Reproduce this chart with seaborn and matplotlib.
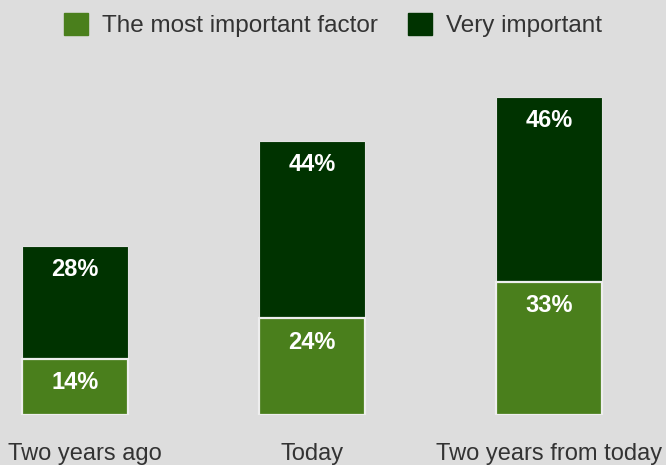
import pandas as pd
import matplotlib.pyplot as plt
import matplotlib.transforms as mtransforms
import seaborn as sns
from matplotlib.patches import Patch

# Donnees
periods = ["Two years ago", "Today", "Two years from today"]
most_important = [14, 24, 33]
very_important = [28, 44, 46]

BG = "#dddddd"
LIGHT = "#4a7f1c"
DARK = "#003300"
TEXT = "#333333"


def main():
    df = pd.DataFrame({"period": periods, "most": most_important, "very": very_important})
    df["total"] = df["most"] + df["very"]

    sns.set_theme(style="white")
    plt.rcParams["font.family"] = ["Liberation Sans", "DejaVu Sans"]

    fig = plt.figure(figsize=(6.66, 4.65), dpi=100, facecolor=BG)
    ax = fig.add_axes([0, 50 / 465, 1, 355 / 465])
    ax.set_facecolor(BG)

    # barre totale (tres important) puis la partie basse
    sns.barplot(data=df, x="period", y="total", color=DARK, saturation=1, width=0.45,
                edgecolor="#e2e2e2", linewidth=0.8, ax=ax)
    sns.barplot(data=df, x="period", y="most", color=LIGHT, saturation=1, width=0.45,
                edgecolor="#eeeeee", linewidth=1.6, ax=ax)

    for i, row in df.iterrows():
        ax.annotate(f"{row['very']}%", (i, row["total"]), xytext=(0, -17), textcoords="offset points",
                    ha="center", va="center", color="white", fontsize=17, fontweight="bold")
        ax.annotate(f"{row['most']}%", (i, row["most"]), xytext=(0, -17), textcoords="offset points",
                    ha="center", va="center", color="white", fontsize=17, fontweight="bold")

    ax.set_xlim(-75 / 237, (666 - 75) / 237)
    ax.set_ylim(0, 88.2)
    ax.set_xlabel("")
    ax.set_ylabel("")
    ax.set_yticks([])
    ax.tick_params(axis="x", length=0, pad=20, labelsize=17, labelcolor=TEXT)
    sns.despine(ax=ax, left=True, bottom=True)

    # le premier libelle est decale vers la droite dans l'original
    first = ax.get_xticklabels()[0]
    first.set_transform(first.get_transform() + mtransforms.ScaledTranslation(0.1, 0, fig.dpi_scale_trans))

    handles = [Patch(color=LIGHT, label="The most important factor"),
               Patch(color=DARK, label="Very important")]
    fig.legend(handles=handles, loc="center", bbox_to_anchor=(0.5, 1 - 25 / 465), ncol=2,
               frameon=False, fontsize=17.5, labelcolor=TEXT, handlelength=1.0, handleheight=1.0,
               handletextpad=0.6, columnspacing=1.2)

    fig.savefig("out.png", dpi=100, facecolor=BG)
    plt.close(fig)


if __name__ == "__main__":
    main()
